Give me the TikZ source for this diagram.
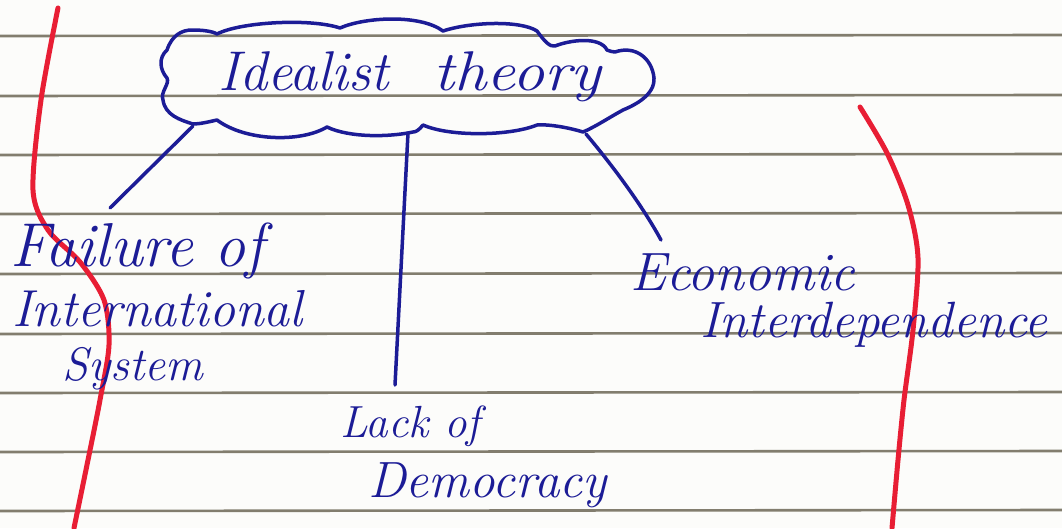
\documentclass[tikz,border=0pt]{standalone}
\definecolor{ink}{RGB}{28,28,150}
\definecolor{redpen}{RGB}{232,30,52}
\definecolor{rule}{RGB}{130,125,110}
\definecolor{paper}{RGB}{252,252,250}
\tikzset{
  ruleline/.style={draw=rule, line width=2.6pt},
  margin/.style={draw=redpen, line width=5pt, line cap=round},
  inkline/.style={draw=ink, line width=3.5pt, line cap=round, line join=round},
  hand/.style={text=ink, inner sep=0pt, anchor=base west, font=\itshape},
  cloudarea/.style={minimum width=495pt, minimum height=120pt, inner sep=0pt}
}
\newcommand{\hs}[1]{\fontsize{#1}{#1}\selectfont}
\begin{document}
\begin{tikzpicture}[x=1pt,y=-1pt]
\useasboundingbox (0,0) rectangle (1062,528);
\fill[paper] (0,0) rectangle (1062,528);
% ruled lines
\foreach \yy in {36,96,155,214,274,334,393,452,511}
  \draw[ruleline] (0,\yy) -- (1062,\yy-1);
% red margin lines
\draw[margin] plot[smooth] coordinates {(58,8) (41,100) (33,190) (48,230) (80,262) (104,300) (109,345) (100,400) (88,460) (74,528)};
\draw[margin] plot[smooth] coordinates {(860,107) (887,153) (908,205) (918,258) (913,330) (904,400) (898,460) (892,528)};
% cloud and title
\node[cloudarea] (cloud) at (408,78) {};
\draw[inkline] (167,50) .. controls (172,35) and (182,30) .. (192,30)
  .. controls (202,30) and (212,31) .. (217,34)
  .. controls (240,22) and (310,18) .. (340,28)
  .. controls (365,17) and (420,14) .. (443,31)
  .. controls (470,22) and (520,20) .. (537,31)
  .. controls (545,42) and (550,47) .. (555,46)
  .. controls (570,40) and (600,36) .. (607,50)
  .. controls (610,51) and (612,52) .. (615,52)
  .. controls (635,45) and (652,58) .. (654,78)
  .. controls (655,95) and (635,105) .. (623,110)
  .. controls (610,117) and (595,127) .. (583,132)
  .. controls (570,128) and (550,124) .. (537,125)
  .. controls (510,136) and (450,137) .. (423,125)
  .. controls (419,130) and (416,132) .. (413,132)
  .. controls (390,137) and (350,138) .. (327,127)
  .. controls (300,143) and (245,141) .. (217,120)
  .. controls (208,122) and (200,124) .. (193,124)
  .. controls (180,120) and (165,115) .. (163,100)
  .. controls (160,92) and (170,84) .. (167,78)
  .. controls (160,70) and (158,58) .. (167,50) -- cycle;
\node[hand] (title) at (218,90) {\hs{56}Idealist\hspace{44pt}\scalebox{1.15}[1]{theory}};
% labels
\node[hand] (fail1) at (10,266) {\hs{62}Failure\ of};
\node[hand] (fail2) at (12,326) {\hs{52}International};
\node[hand] (fail3) at (62,380) {\hs{47}System};
\node[hand] (lack1) at (340,437) {\hs{45}Lack of};
\node[hand] (lack2) at (368,497) {\hs{51}Democracy};
\node[hand] (econ1) at (630,290) {\hs{54}Economic};
\node[hand] (econ2) at (700,337) {\hs{51}Interdependence};
% connector ends
\coordinate (c1a) at (193,126);
\coordinate (c1b) at (110,208);
\coordinate (c2a) at (408,133);
\coordinate (c2b) at (395,385);
\coordinate (c3a) at (586,134);
\coordinate (c3b) at (661,240);
\draw[inkline] (c1a) -- (c1b);
\draw[inkline] (c2a) -- (c2b);
\draw[inkline] (c3a) .. controls (612,165) and (642,205) .. (c3b);
\end{tikzpicture}
\end{document}
